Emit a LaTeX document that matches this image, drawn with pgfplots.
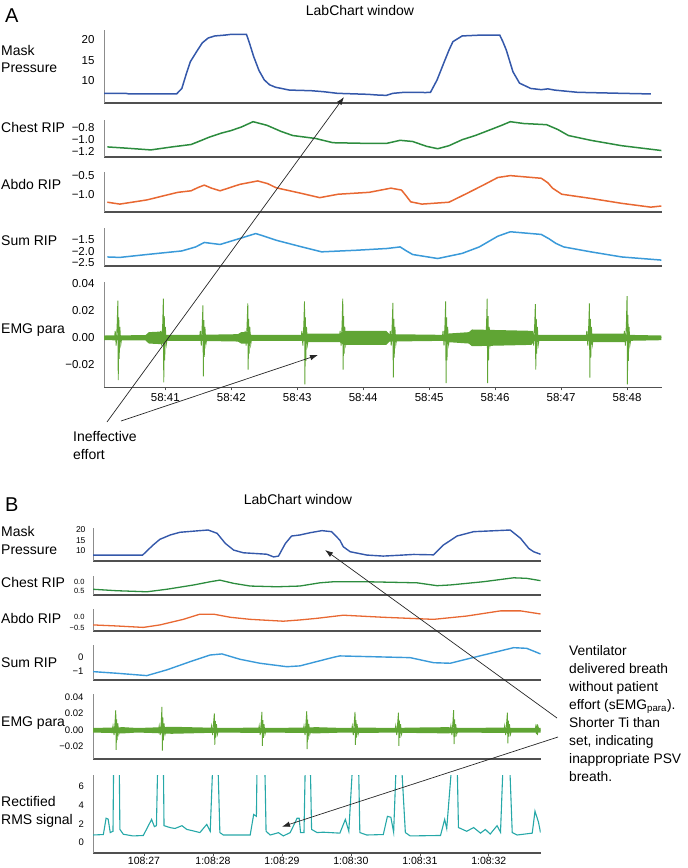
\documentclass[border=0pt]{standalone}
\usepackage{fontspec}
\setmainfont{Liberation Sans}
\usepackage{pgfplots}
\pgfplotsset{compat=1.18}
\usetikzlibrary{arrows.meta}
\definecolor{cmask}{RGB}{52,88,170}
\definecolor{cchest}{RGB}{44,140,62}
\definecolor{cabdo}{RGB}{232,104,50}
\definecolor{csum}{RGB}{58,154,217}
\definecolor{cemg}{RGB}{96,165,52}
\definecolor{crms}{RGB}{38,168,168}
\definecolor{axgray}{RGB}{80,80,80}
\newcommand\lbl{\fontsize{14}{17}\selectfont}
\pgfplotsset{
  sig/.style={
    scale only axis,
    axis lines*=left,
    scaled ticks=false,
    xtick=\empty,
    tick align=outside,
    major tick length=3pt,
    ytick style={draw=none},
    xtick style={draw=axgray, line width=0.6pt},
    x axis line style={line width=2pt, draw=axgray},
    y axis line style={line width=0.6pt, draw=black!45},
    yticklabel style={font=\fontsize{11.5}{12}\selectfont, xshift=-3pt},
    xticklabel style={font=\fontsize{11.5}{12}\selectfont},
    anchor=south west,
    clip=true,
  },
  panelA/.style={sig, width=558pt, xmin=40.07, xmax=48.53},
  panelB/.style={sig, width=447.5pt, xmin=26.26, xmax=32.75},
}
\begin{document}
\begin{tikzpicture}
\useasboundingbox (0,0) rectangle (688pt,-868pt);
% ---------------- Panel A ----------------
\node[anchor=base west, font=\fontsize{20}{20}\selectfont, inner sep=0] at (5pt,-22pt) {A};
\node[anchor=base, font=\lbl, inner sep=0] at (360pt,-15pt) {LabChart window};
\node[anchor=base west, font=\lbl, inner sep=0] at (1pt,-55pt) {Mask};
\node[anchor=base west, font=\lbl, inner sep=0] at (1pt,-72.7pt) {Pressure};
\node[anchor=base west, font=\lbl, inner sep=0] at (1pt,-132.7pt) {Chest RIP};
\node[anchor=base west, font=\lbl, inner sep=0] at (1pt,-189.3pt) {Abdo RIP};
\node[anchor=base west, font=\lbl, inner sep=0] at (1pt,-245pt) {Sum RIP};
\node[anchor=base west, font=\lbl, inner sep=0] at (1pt,-333.3pt) {EMG para};

\begin{axis}[panelA, at={(104pt,-103.3pt)}, height=73.3pt, ymin=4.45, ymax=22.46,
  ytick={10,15,20}, yticklabels={10,15,20}]
\addplot[cmask, line width=1.5pt] coordinates {(40.07,6.9) (40.40,6.9) (40.45,6.75) (41.17,6.75) (41.25,8.1) (41.32,11.8) (41.38,14.7) (41.48,17.3) (41.56,19.3) (41.65,20.5) (41.75,21.0) (41.90,21.2) (42.00,21.4) (42.23,21.4) (42.28,19.0) (42.34,15.9) (42.42,12.5) (42.50,10.2) (42.58,9.0) (42.67,8.4) (42.88,7.7) (43.21,7.55) (43.40,7.3) (43.61,6.9) (44.08,6.65) (44.20,6.5) (44.35,6.4) (44.45,6.9) (44.62,7.15) (44.95,7.1) (45.02,7.15) (45.12,10.2) (45.23,14.7) (45.30,17.5) (45.36,19.6) (45.50,21.0) (45.77,21.2) (46.07,21.2) (46.12,19.5) (46.17,17.5) (46.27,12.2) (46.37,9.4) (46.54,8.1) (46.70,7.8) (46.80,8.0) (46.90,7.7) (47.25,7.15) (47.92,6.9) (48.36,6.75)};
\end{axis}

\begin{axis}[panelA, at={(104pt,-156.7pt)}, height=36.7pt, ymin=-1.283, ymax=-0.672,
  ytick={-1.2,-1.0,-0.8}, yticklabels={−1.2,−1.0,−0.8}]
\addplot[cchest, line width=1.5pt] coordinates {(40.12,-1.12) (40.40,-1.14) (40.78,-1.17) (41.10,-1.12) (41.39,-1.08) (41.55,-1.01) (41.66,-0.96) (41.85,-0.89) (41.99,-0.85) (42.15,-0.79) (42.33,-0.70) (42.54,-0.76) (42.75,-0.86) (42.93,-0.93) (43.28,-0.98) (43.54,-1.05) (44.00,-1.06) (44.36,-1.06) (44.56,-1.01) (44.75,-1.03) (44.96,-1.11) (45.13,-1.15) (45.30,-1.10) (45.50,-1.00) (45.70,-0.93) (45.96,-0.82) (46.10,-0.76) (46.23,-0.70) (46.43,-0.73) (46.78,-0.75) (46.95,-0.83) (47.11,-0.93) (47.45,-1.01) (47.92,-1.10) (48.52,-1.18)};
\end{axis}

\begin{axis}[panelA, at={(104pt,-211.7pt)}, height=40pt, ymin=-1.44, ymax=-0.387,
  ytick={-1.0,-0.5}, yticklabels={−1.0,−0.5}]
\addplot[cabdo, line width=1.5pt] coordinates {(40.12,-1.19) (40.31,-1.24) (40.72,-1.13) (41.00,-1.01) (41.19,-0.93) (41.39,-0.89) (41.50,-0.80) (41.59,-0.74) (41.70,-0.82) (41.83,-0.89) (42.13,-0.72) (42.40,-0.63) (42.55,-0.70) (42.68,-0.81) (43.07,-0.96) (43.34,-1.07) (43.62,-0.98) (44.09,-0.93) (44.42,-0.82) (44.58,-0.87) (44.65,-1.02) (44.72,-1.18) (44.89,-1.24) (45.30,-1.19) (45.57,-0.96) (45.82,-0.74) (46.04,-0.54) (46.23,-0.49) (46.70,-0.56) (46.80,-0.68) (46.87,-0.82) (47.01,-0.98) (47.45,-1.09) (47.92,-1.22) (48.36,-1.32) (48.52,-1.29)};
\end{axis}

\begin{axis}[panelA, at={(104pt,-265.7pt)}, height=37.4pt, ymin=-2.652, ymax=-0.975,
  ytick={-2.5,-2.0,-1.5}, yticklabels={−2.5,−2.0,−1.5}]
\addplot[csum, line width=1.5pt] coordinates {(40.12,-2.26) (40.31,-2.28) (40.72,-2.15) (41.25,-1.99) (41.46,-1.81) (41.59,-1.61) (41.83,-1.70) (42.13,-1.43) (42.37,-1.21) (42.50,-1.33) (42.68,-1.51) (43.07,-1.81) (43.37,-2.03) (43.89,-1.96) (44.36,-1.88) (44.56,-1.81) (44.65,-1.98) (44.75,-2.15) (45.13,-2.33) (45.50,-2.10) (45.76,-1.81) (46.04,-1.33) (46.23,-1.13) (46.70,-1.25) (46.82,-1.45) (46.92,-1.65) (47.04,-1.81) (47.45,-2.03) (47.92,-2.26) (48.52,-2.40)};
\end{axis}

\begin{axis}[panelA, at={(104pt,-387.3pt)}, height=105.6pt, ymin=-0.0372, ymax=0.0417,
  ytick={-0.02,0,0.02,0.04}, yticklabels={−0.02,0.00,0.02,0.04},
  x axis line style={line width=1.5pt},
  xtick={41,42,43,44,45,46,47,48},
  xticklabels={58:41,58:42,58:43,58:44,58:45,58:46,58:47,58:48}]
\addplot[fill=cemg, draw=none] coordinates {(40.07,0.0015) (40.70,0.0018) (40.75,0.004) (40.95,0.0045) (41.00,0.002) (41.50,0.002) (42.10,0.0025) (42.15,0.004) (42.27,0.004) (42.30,0.002) (43.10,0.002) (43.15,0.003) (43.65,0.003) (43.70,0.005) (44.35,0.005) (44.40,0.0025) (45.20,0.002) (45.30,0.003) (45.60,0.004) (45.65,0.006) (46.55,0.005) (46.60,0.002) (47.40,0.002) (47.45,0.003) (47.95,0.003) (48.00,0.002) (48.52,0.0015)
 (48.52,-0.002) (48.00,-0.0025) (47.95,-0.0035) (47.45,-0.0035) (47.40,-0.0025) (46.60,-0.0025) (46.55,-0.0055) (45.65,-0.0065) (45.60,-0.0045) (45.30,-0.0035) (45.20,-0.0025) (44.40,-0.003) (44.35,-0.0055) (43.70,-0.0055) (43.65,-0.0035) (43.15,-0.0035) (43.10,-0.0025) (42.30,-0.0025) (42.27,-0.0045) (42.15,-0.0045) (42.10,-0.003) (41.50,-0.0025) (41.00,-0.0025) (40.95,-0.005) (40.75,-0.0045) (40.70,-0.0022) (40.07,-0.002)};
\addplot[cemg, line width=0.9pt] coordinates {(40.07,0)
(40.23,0) (40.24,0.005) (40.255,-0.006) (40.27,0.010) (40.28,0.0275) (40.286,-0.0318) (40.294,0.015) (40.30,-0.016) (40.31,0.008) (40.325,-0.005) (40.34,0)
(40.92,0) (40.93,0.005) (40.945,-0.006) (40.96,0.010) (40.97,0.029) (40.976,-0.0335) (40.984,0.016) (40.99,-0.017) (41.00,0.008) (41.015,-0.005) (41.03,0)
(41.52,0) (41.53,0.005) (41.545,-0.006) (41.56,0.010) (41.57,0.024) (41.576,-0.029) (41.584,0.013) (41.59,-0.0145) (41.60,0.008) (41.615,-0.005) (41.63,0)
(42.20,0) (42.21,0.005) (42.225,-0.006) (42.24,0.010) (42.25,0.0255) (42.256,-0.024) (42.264,0.014) (42.27,-0.012) (42.28,0.008) (42.295,-0.005) (42.31,0)
(43.06,0) (43.07,0.005) (43.085,-0.006) (43.10,0.010) (43.11,0.027) (43.116,-0.035) (43.124,0.015) (43.13,-0.0175) (43.14,0.008) (43.155,-0.005) (43.17,0)
(43.64,0) (43.65,0.005) (43.665,-0.006) (43.68,0.010) (43.69,0.029) (43.696,-0.024) (43.704,0.016) (43.71,-0.012) (43.72,0.008) (43.735,-0.005) (43.75,0)
(44.40,0) (44.41,0.005) (44.425,-0.006) (44.44,0.010) (44.45,0.0258) (44.456,-0.030) (44.464,0.014) (44.47,-0.015) (44.48,0.008) (44.495,-0.005) (44.51,0)
(45.20,0) (45.21,0.005) (45.225,-0.006) (45.24,0.010) (45.25,0.027) (45.256,-0.034) (45.264,0.015) (45.27,-0.017) (45.28,0.008) (45.295,-0.005) (45.31,0)
(45.83,0) (45.84,0.005) (45.855,-0.006) (45.87,0.010) (45.88,0.029) (45.886,-0.034) (45.894,0.016) (45.90,-0.017) (45.91,0.008) (45.925,-0.005) (45.94,0)
(46.56,0) (46.57,0.005) (46.585,-0.006) (46.60,0.010) (46.61,0.025) (46.616,-0.024) (46.624,0.014) (46.63,-0.012) (46.64,0.008) (46.655,-0.005) (46.67,0)
(47.38,0) (47.39,0.005) (47.405,-0.006) (47.42,0.010) (47.43,0.0255) (47.436,-0.030) (47.444,0.014) (47.45,-0.015) (47.46,0.008) (47.475,-0.005) (47.49,0)
(47.95,0) (47.96,0.005) (47.975,-0.006) (47.99,0.010) (48.00,0.031) (48.006,-0.035) (48.014,0.017) (48.02,-0.0175) (48.03,0.008) (48.045,-0.005) (48.06,0)
(48.52,0)};
\end{axis}

\node[anchor=base west, font=\lbl, inner sep=0] at (73pt,-441.5pt) {Ineffective};
\node[anchor=base west, font=\lbl, inner sep=0] at (73pt,-459pt) {effort};
\draw[-{Latex[length=8pt,width=5.5pt]}, line width=0.7pt, black!85] (107pt,-422pt) -- (344pt,-97pt);
\draw[-{Latex[length=8pt,width=5.5pt]}, line width=0.7pt, black!85] (121pt,-421pt) -- (318pt,-355pt);

% ---------------- Panel B ----------------
\node[anchor=base west, font=\fontsize{20}{20}\selectfont, inner sep=0] at (5pt,-511pt) {B};
\node[anchor=base, font=\lbl, inner sep=0] at (298pt,-504.3pt) {LabChart window};
\node[anchor=base west, font=\lbl, inner sep=0] at (1pt,-536.7pt) {Mask};
\node[anchor=base west, font=\lbl, inner sep=0] at (1pt,-554pt) {Pressure};
\node[anchor=base west, font=\lbl, inner sep=0] at (1pt,-587.3pt) {Chest RIP};
\node[anchor=base west, font=\lbl, inner sep=0] at (1pt,-623.3pt) {Abdo RIP};
\node[anchor=base west, font=\lbl, inner sep=0] at (1pt,-667.3pt) {Sum RIP};
\node[anchor=base west, font=\lbl, inner sep=0] at (1pt,-726.7pt) {EMG para};
\node[anchor=base west, font=\lbl, inner sep=0] at (1pt,-806.7pt) {Rectified};
\node[anchor=base west, font=\lbl, inner sep=0] at (1pt,-824pt) {RMS signal};

\begin{axis}[panelB, at={(93pt,-561pt)}, height=33pt, ymin=5.02, ymax=20.97,
  ytick={10,15,20}, yticklabels={10,15,20},
  yticklabel style={font=\fontsize{8.5}{9}\selectfont, xshift=2pt}]
\addplot[cmask, line width=1.4pt] coordinates {(26.26,7.9) (26.98,7.9) (27.13,12.7) (27.23,15.5) (27.38,17.6) (27.52,18.9) (27.81,19.7) (27.93,20.0) (28.06,18.4) (28.18,13.5) (28.30,10.3) (28.44,9.0) (28.78,8.3) (28.88,7.0) (28.95,7.4) (29.05,13.5) (29.14,17.1) (29.26,17.6) (29.41,18.7) (29.58,19.7) (29.72,19.2) (29.84,15.1) (29.89,11.9) (29.99,9.5) (30.23,7.9) (30.47,7.4) (30.70,7.8) (30.91,8.2) (31.20,8.0) (31.34,12.7) (31.54,17.1) (31.78,19.2) (32.31,20.0) (32.46,16.0) (32.58,11.1) (32.65,9.5) (32.75,8.3)};
\end{axis}

\begin{axis}[panelB, at={(93pt,-595pt)}, height=19pt, ymin=-0.74, ymax=0.32,
  ytick={-0.5,0}, yticklabels={0.5,0.0},
  yticklabel style={font=\fontsize{7.5}{8}\selectfont, xshift=1pt}]
\addplot[cchest, line width=1.3pt] coordinates {(26.26,-0.42) (26.60,-0.50) (27.04,-0.56) (27.33,-0.42) (27.72,-0.18) (27.96,0.0) (28.10,0.09) (28.30,-0.09) (28.54,-0.24) (28.93,-0.28) (29.26,-0.24) (29.55,-0.06) (29.75,0.0) (30.23,0.0) (30.96,-0.06) (31.25,-0.22) (31.44,-0.18) (31.92,0.0) (32.36,0.22) (32.55,0.19) (32.75,0.06)};
\end{axis}

\begin{axis}[panelB, at={(93pt,-630.7pt)}, height=21.7pt, ymin=-0.65, ymax=0.40,
  ytick={-0.5,0}, yticklabels={−0.5,0.0},
  yticklabel style={font=\fontsize{7.5}{8}\selectfont, xshift=1pt}]
\addplot[cabdo, line width=1.3pt] coordinates {(26.26,-0.37) (26.60,-0.42) (26.99,-0.49) (27.23,-0.37) (27.57,-0.10) (27.81,0.15) (28.01,0.15) (28.25,0.0) (28.54,-0.10) (29.02,-0.19) (29.26,-0.13) (29.51,-0.05) (29.89,0.10) (30.47,0.0) (31.20,-0.10) (31.68,0.06) (32.17,0.31) (32.46,0.31) (32.75,0.16)};
\end{axis}

\begin{axis}[panelB, at={(93pt,-680pt)}, height=35pt, ymin=-1.68, ymax=0.95,
  ytick={-1,0}, yticklabels={−1,0},
  yticklabel style={font=\fontsize{9.5}{10}\selectfont, xshift=0pt}]
\addplot[csum, line width=1.4pt] coordinates {(26.26,-1.05) (26.60,-1.17) (27.04,-1.35) (27.33,-0.92) (27.67,-0.30) (27.96,0.20) (28.13,0.28) (28.39,-0.12) (28.68,-0.42) (29.07,-0.68) (29.26,-0.62) (29.41,-0.42) (29.75,0.03) (29.84,0.13) (30.86,0.0) (31.20,-0.38) (31.44,-0.42) (31.83,0.08) (32.36,0.75) (32.55,0.70) (32.75,0.28)};
\end{axis}

\begin{axis}[panelB, at={(93pt,-759pt)}, height=65pt, ymin=-0.035, ymax=0.0436,
  ytick={-0.02,0,0.02,0.04}, yticklabels={−0.02,0.00,0.02,0.04},
  yticklabel style={font=\fontsize{9.5}{10}\selectfont, xshift=0pt}]
\addplot[fill=cemg, draw=none] coordinates {(26.26,0.0025) (26.50,0.003) (26.70,0.0035) (26.90,0.0025) (27.10,0.003) (27.40,0.004) (27.90,0.003) (28.20,0.0025) (28.60,0.003) (28.80,0.0025) (29.30,0.003) (29.50,0.0035) (29.90,0.0025) (30.20,0.003) (30.60,0.0025) (30.90,0.003) (31.40,0.0035) (31.60,0.0025) (32.20,0.003) (32.40,0.0025) (32.75,0.0025)
 (32.75,-0.003) (32.40,-0.003) (32.20,-0.0035) (31.60,-0.003) (31.40,-0.004) (30.90,-0.0035) (30.60,-0.003) (30.20,-0.0035) (29.90,-0.003) (29.50,-0.004) (29.30,-0.0035) (28.80,-0.003) (28.60,-0.0035) (28.20,-0.003) (27.90,-0.0035) (27.40,-0.0045) (27.10,-0.0035) (26.90,-0.003) (26.70,-0.004) (26.50,-0.0035) (26.26,-0.003)};
\addplot[cemg, line width=0.9pt] coordinates {(26.26,0)
(26.54,0) (26.55,0.005) (26.565,-0.006) (26.58,0.010) (26.59,0.024) (26.596,-0.024) (26.604,0.013) (26.61,-0.012) (26.62,0.008) (26.635,-0.005) (26.65,0)
(27.21,0) (27.22,0.005) (27.235,-0.006) (27.25,0.010) (27.26,0.028) (27.266,-0.025) (27.274,0.015) (27.28,-0.0125) (27.29,0.008) (27.305,-0.005) (27.32,0)
(27.97,0) (27.98,0.005) (27.995,-0.006) (28.01,0.010) (28.02,0.020) (28.026,-0.018) (28.034,0.011) (28.04,-0.009) (28.05,0.007) (28.065,-0.005) (28.08,0)
(28.66,0) (28.67,0.005) (28.685,-0.006) (28.70,0.010) (28.71,0.022) (28.716,-0.019) (28.724,0.012) (28.73,-0.0095) (28.74,0.007) (28.755,-0.005) (28.77,0)
(29.31,0) (29.32,0.005) (29.335,-0.006) (29.35,0.010) (29.36,0.023) (29.366,-0.023) (29.374,0.0125) (29.38,-0.0115) (29.39,0.007) (29.405,-0.005) (29.42,0)
(30.01,0) (30.02,0.005) (30.035,-0.006) (30.05,0.010) (30.06,0.022) (30.066,-0.018) (30.074,0.012) (30.08,-0.009) (30.09,0.007) (30.105,-0.005) (30.12,0)
(30.64,0) (30.65,0.005) (30.665,-0.006) (30.68,0.010) (30.69,0.021) (30.696,-0.019) (30.704,0.0115) (30.71,-0.0095) (30.72,0.007) (30.735,-0.005) (30.75,0)
(31.44,0) (31.45,0.005) (31.465,-0.006) (31.48,0.010) (31.49,0.024) (31.496,-0.017) (31.504,0.013) (31.51,-0.0085) (31.52,0.007) (31.535,-0.005) (31.55,0)
(32.22,0) (32.23,0.005) (32.245,-0.006) (32.26,0.010) (32.27,0.021) (32.276,-0.016) (32.284,0.0115) (32.29,-0.008) (32.30,0.007) (32.315,-0.005) (32.33,0)
(32.67,0) (32.68,0.004) (32.69,-0.005) (32.70,0.007) (32.706,-0.006) (32.715,0.004) (32.73,0)
(32.75,0)};
\end{axis}

\begin{axis}[panelB, at={(93pt,-853pt)}, height=78pt, ymin=-1.13, ymax=7.23,
  ytick={0,2,4,6}, yticklabels={0,2,4,6},
  yticklabel style={font=\fontsize{9.5}{10}\selectfont, xshift=0pt},
  x axis line style={line width=1.5pt},
  major tick length=2.5pt,
  xtick={27,28,29,30,31,32},
  xticklabels={108:27,1:08:28,1:08:29,1:08:30,1:08:31,1:08:32},
  xticklabel style={font=\fontsize{10.5}{10.5}\selectfont, inner sep=1pt}]
\addplot[crms, line width=1.1pt] coordinates {(26.26,0.8) (26.41,0.85) (26.45,2.6) (26.48,2.5) (26.51,1.06) (26.55,1.2) (26.56,9) (26.64,9) (26.65,1.4) (26.70,0.88) (26.84,0.7) (26.99,0.75) (27.06,1.76) (27.11,2.47) (27.15,1.7) (27.18,1.8) (27.20,9) (27.28,9) (27.29,1.8) (27.38,1.59) (27.45,1.5) (27.55,1.8) (27.62,1.4) (27.72,1.23) (27.81,1.06) (27.91,1.94) (27.96,1.2) (28.00,9) (28.07,9) (28.10,1.06) (28.15,0.8) (28.54,0.8) (28.59,3.0) (28.63,2.8) (28.64,9) (28.75,9) (28.77,1.2) (28.83,0.8) (28.95,1.05) (29.02,0.7) (29.12,1.06) (29.22,2.6) (29.25,2.6) (29.27,1.06) (29.32,1.06) (29.34,9) (29.41,9) (29.43,1.4) (29.51,1.06) (29.60,1.1) (29.84,1.0) (29.92,2.47) (29.97,1.2) (30.03,9) (30.11,9) (30.13,1.06) (30.23,0.8) (30.47,0.85) (30.53,2.8) (30.58,2.7) (30.62,1.1) (30.66,9) (30.73,9) (30.79,1.06) (30.86,0.7) (31.30,0.75) (31.36,2.47) (31.39,1.5) (31.47,9) (31.54,9) (31.56,1.6) (31.68,1.2) (31.78,1.6) (31.88,1.0) (31.95,1.4) (32.02,0.9) (32.12,1.8) (32.17,1.1) (32.21,9) (32.30,9) (32.34,1.06) (32.41,0.8) (32.63,1.0) (32.67,3.35) (32.72,2.2) (32.75,1.06)};
\end{axis}

\node[anchor=north west, align=left, inner sep=0, font=\fontsize{13.8}{17.9}\selectfont] at (569pt,-645.5pt)
 {Ventilator\\delivered breath\\without patient\\effort (sEMG\textsubscript{para}).\\Shorter Ti than\\set, indicating\\inappropriate PSV\\breath.};
\draw[-{Latex[length=8pt,width=5.5pt]}, line width=0.7pt, black!85] (557pt,-718pt) -- (325pt,-550pt);
\draw[-{Latex[length=8pt,width=5.5pt]}, line width=0.7pt, black!85] (558pt,-737pt) -- (282pt,-826.7pt);
\end{tikzpicture}
\end{document}
